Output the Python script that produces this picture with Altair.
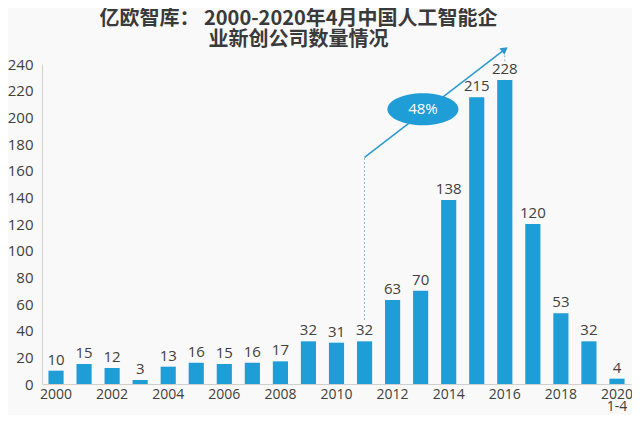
import altair as alt
import pandas as pd

# ---- data ----
years = ["2000", "2001", "2002", "2003", "2004", "2005", "2006", "2007",
         "2008", "2009", "2010", "2011", "2012", "2013", "2014", "2015",
         "2016", "2017", "2018", "2019", "2020"]
counts = [10, 15, 12, 3, 13, 16, 15, 16, 17, 32, 31, 32, 63, 70, 138,
          215, 228, 120, 53, 32, 4]

# annotation: growth arrow
arrow_x = ["2011", "2016"]
arrow_y = [170, 251]
# dashed guide lines
guide_x = ["2011", "2016"]
guide_y = [48, 242]
guide_y2 = [170, 248]
# badge
badge_x = ["2013"]
badge_y = [206]
badge_text = ["48%"]
y_ticks = [0, 20, 40, 60, 80, 100, 120, 140, 160, 180, 200, 220, 240]

title_lines = ["亿欧智库：  2000-2020年4月中国人工智能企", "业新创公司数量情况"]

BLUE = "#1f9dd6"
TEXT = "#404040"
NUM_FONT = "Open Sans"

bars_df = pd.DataFrame({"year": years, "count": counts})
arrow_df = pd.DataFrame({"year": arrow_x, "v": arrow_y})
head_df = pd.DataFrame({"year": arrow_x[1:], "v": arrow_y[1:]})
guide_df = pd.DataFrame({"year": guide_x, "v": guide_y, "v2": guide_y2})
badge_df = pd.DataFrame({"year": badge_x, "v": badge_y, "t": badge_text})

x_scale = alt.Scale(domain=years, paddingInner=0.46, paddingOuter=0.23)
y_scale = alt.Scale(domain=[0, 240], nice=False, zero=True)

label_expr = ("datum.value == '2020' ? ['2020', '1-4'] : "
              "(toNumber(datum.value) % 2 == 0 ? datum.value : '')")

x_axis = alt.Axis(title=None, labelAngle=0, ticks=False, domainColor="#d0d0d0",
                  labelPadding=3, labelFontSize=14, labelColor=TEXT,
                  labelFont=NUM_FONT, labelOverlap=False, labelExpr=label_expr,
                  labelLineHeight=12, labelBound=False, grid=False)
y_axis = alt.Axis(title=None, values=y_ticks, tickCount=13, ticks=False,
                  domainColor="#d0d0d0", labelPadding=9, labelFontSize=15,
                  labelColor=TEXT, labelFont=NUM_FONT, labelOverlap=False,
                  grid=False)


def X(field, bp=None):
    if bp is None:
        return alt.X(field, scale=x_scale, axis=x_axis, sort=None)
    return alt.X(field, scale=x_scale, axis=x_axis, sort=None, bandPosition=bp)


def Y(field):
    return alt.Y(field, scale=y_scale, axis=y_axis)


base = alt.Chart(bars_df)

bars = base.mark_bar(color=BLUE).encode(
    x=X("year:N"),
    y=Y("count:Q"),
)

bar_labels = base.mark_text(baseline="bottom", dy=-3, fontSize=15,
                            color=TEXT, font=NUM_FONT).encode(
    x=X("year:N"),
    y=Y("count:Q"),
    text=alt.Text("count:Q"),
)

guides = alt.Chart(guide_df).mark_rule(color="#8fb3c8", strokeDash=[2, 2],
                                       strokeWidth=1).encode(
    x=X("year:N", 0.5),
    y=Y("v:Q"),
    y2="v2:Q",
)

arrow = alt.Chart(arrow_df).mark_line(color="#2a9ad0", strokeWidth=1.5).encode(
    x=X("year:N", 0.5),
    y=Y("v:Q"),
)

head = alt.Chart(head_df).mark_point(shape="triangle-up", filled=True,
                                     color="#2a9ad0", size=70, angle=53,
                                     opacity=1).encode(
    x=X("year:N", 0.5),
    y=Y("v:Q"),
)

ellipse_path = "M-1,0A1,0.45,0,1,1,1,0A1,0.45,0,1,1,-1,0Z"
badge = alt.Chart(badge_df).mark_point(shape=ellipse_path, filled=True,
                                       color=BLUE, size=5041, opacity=1,
                                       strokeWidth=0).encode(
    x=X("year:N", 0.65),
    y=Y("v:Q"),
)
badge_label = alt.Chart(badge_df).mark_text(color="white", fontSize=15,
                                            font=NUM_FONT).encode(
    x=X("year:N", 0.65),
    y=Y("v:Q"),
    text="t:N",
)

chart = alt.layer(bars, bar_labels, guides, arrow, head, badge, badge_label).properties(
    width=589,
    height=320,
    title=alt.TitleParams(title_lines, fontSize=20, fontWeight="bold",
                          color="#3a3a3a", font="Noto Sans CJK SC",
                          anchor="middle", dx=-38, offset=-4, lineHeight=21),
    autosize=alt.AutoSizeParams(type="none"),
    padding={"left": 34, "top": 56, "right": 1, "bottom": 31},
    background="#f9f9f9",
).configure_view(stroke=None)

chart.save("out.html", embed_options={"renderer": "svg", "actions": False})
